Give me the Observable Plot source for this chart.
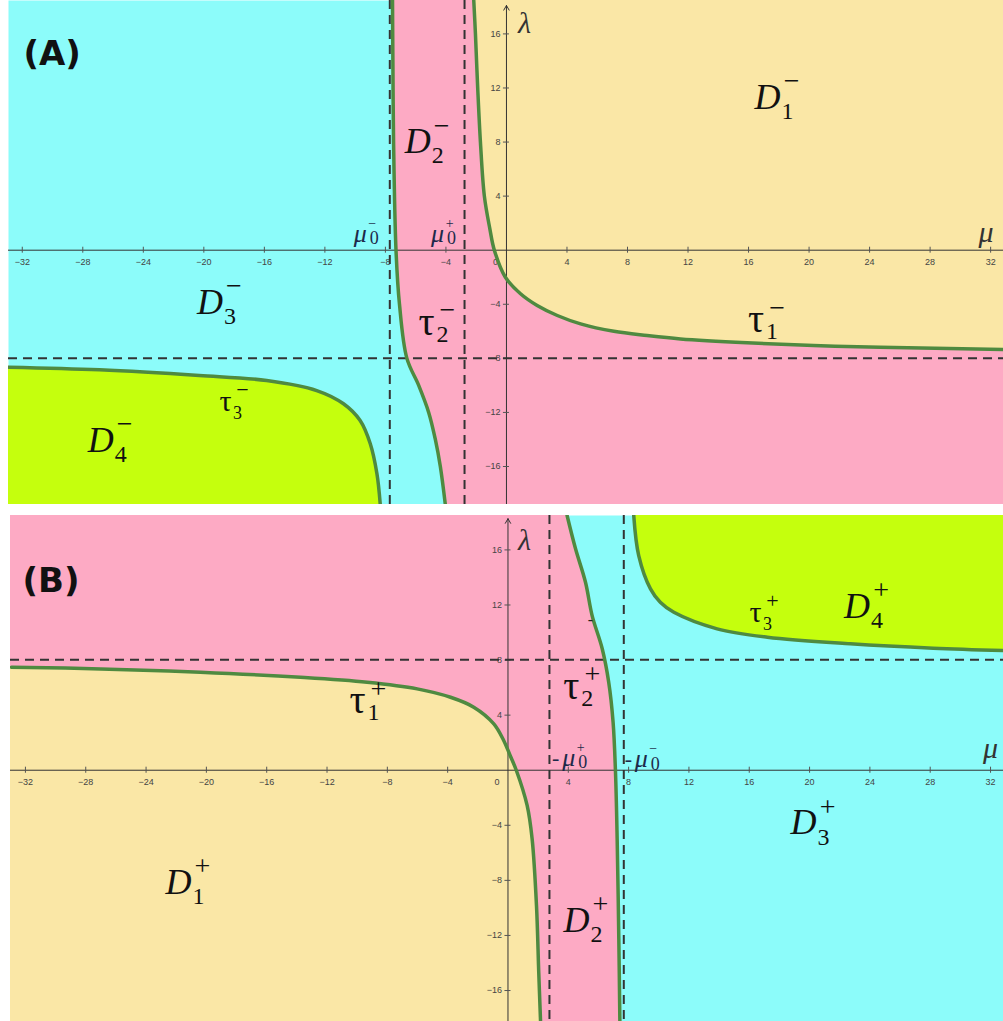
<!DOCTYPE html>
<html><head><meta charset="utf-8">
<script src="https://cdn.jsdelivr.net/npm/d3@7"></script>
<script src="https://cdn.jsdelivr.net/npm/@observablehq/plot@0.6"></script>
<style>
body{margin:0;background:#fff;width:1003px;height:1021px;position:relative;overflow:hidden}
#a{position:absolute;left:8px;top:0}
#b{position:absolute;left:10px;top:515px}
</style></head><body>
<div id="a"></div><div id="b"></div>
<script>
// ---------- data ----------
const muTicks = [-32,-28,-24,-20,-16,-12,-8,-4,4,8,12,16,20,24,28,32];
const muZeroTick = [0];
const lambdaTicks = [-16,-12,-8,-4,4,8,12,16];

// Panel A
const panelNameA = ["(A)"];
const muDomainA = [-32.91, 32.85];
const lambdaDomainA = [-18.81, 18.47];
const lambdaAxisA = [{mu: 0, from: -18.81, to: 18.1}];
const muZeroA = [-7.71, -2.77];          // μ0−, μ0+
const lambdaDashA = [-8];
const tau1A = [[-2.16,18.47],[-2.05,16],[-1.9,12],[-1.72,8],[-1.46,4],[-1.1,1.6],[-0.8,0],[-0.07,-2.0],[0.93,-3.22],[2.03,-4.09],[3.36,-4.83],[4.9,-5.45],[7.1,-6.0],[9.3,-6.31],[11.5,-6.56],[15.9,-6.85],[20.3,-7.05],[24.7,-7.17],[32.85,-7.34]];
const tau2A = [[-7.53,18.47],[-7.5,13],[-7.46,8],[-7.3,0],[-7.07,-4],[-6.58,-8],[-5.8,-10],[-5.14,-12],[-4.7,-14],[-4.37,-16],[-4.04,-18.81]];
const tau3A = [[-32.91,-8.65],[-26.9,-8.85],[-20.3,-9.27],[-15.85,-9.64],[-12.54,-10.38],[-10.77,-11.36],[-9.67,-12.6],[-9.0,-14.32],[-8.56,-16.54],[-8.34,-18.81]];
const labelsA = [
  {main:"D", sub:"1", sup:"\u2212", kind:"D", mu:17.26, lambda:11.3},
  {main:"D", sub:"2", sup:"\u2212", kind:"D", mu:-5.87, lambda:8.03},
  {main:"D", sub:"3", sup:"\u2212", kind:"D", mu:-19.6, lambda:-3.87},
  {main:"D", sub:"4", sup:"\u2212", kind:"D", mu:-26.82, lambda:-14.07},
  {main:"\u03c4", sub:"1", sup:"\u2212", kind:"tau", mu:16.5, lambda:-5.13},
  {main:"\u03c4", sub:"2", sup:"\u2212", kind:"tau", mu:-5.29, lambda:-5.35},
  {main:"\u03c4", sub:"3", sup:"\u2212", kind:"tauSmall", mu:-18.57, lambda:-11.19},
  {main:"\u03bc", sub:"0", sup:"\u2212", kind:"mu", mu:-9.66, lambda:1.24},
  {main:"\u03bc", sub:"0", sup:"+", kind:"mu", mu:-4.55, lambda:1.24}
];
const axisLabelsA = [{text:"\u03bb", mu:1.2, lambda:16.8},{text:"\u03bc", mu:31.7, lambda:1.3}];

// Panel B
const panelNameB = ["(B)"];
const muDomainB = [-32.99, 32.86];
const lambdaDomainB = [-18.25, 18.5];
const lambdaAxisB = [{mu: 0, from: -18.25, to: 18.27}];
const muZeroB = [2.75, 7.68];           // −μ0+, −μ0−
const lambdaDashB = [8.02];
const tau1B = [[-32.92,7.48],[-27.0,7.36],[-20.4,7.12],[-13.76,6.75],[-9.34,6.39],[-6.02,5.91],[-3.81,5.3],[-2.27,4.58],[-0.94,3.37],[-0.3,2.2],[0.15,1.05],[0.55,0],[1.27,-2.56],[1.6,-4.98],[1.89,-9.82],[2.04,-14.67],[2.16,-18.25]];
const tau2B = [[3.92,18.5],[4.48,16.08],[5.14,13.65],[5.58,11.23],[6.25,8.82],[6.68,6.39],[6.97,3.49],[7.13,-0.15],[7.24,-4.98],[7.35,-12.24],[7.42,-18.25]];
const tau3B = [[8.34,18.5],[8.67,15.59],[9.45,13.17],[10.1,12.2],[11.0,11.47],[13.87,10.27],[17.2,9.66],[22.7,9.18],[28.2,8.86],[32.86,8.69]];
const labelsB = [
  {main:"D", sub:"1", sup:"+", kind:"D", mu:-21.85, lambda:-8.15},
  {main:"D", sub:"2", sup:"+", kind:"D", mu:4.54, lambda:-10.9},
  {main:"D", sub:"3", sup:"+", kind:"D", mu:19.6, lambda:-3.83},
  {main:"D", sub:"4", sup:"+", kind:"D", mu:23.15, lambda:11.89},
  {main:"\u03c4", sub:"1", sup:"+", kind:"tau", mu:-9.98, lambda:5.06},
  {main:"\u03c4", sub:"2", sup:"+", kind:"tau", mu:4.2, lambda:6.08},
  {main:"\u03c4", sub:"3", sup:"+", kind:"tauSmall", mu:16.41, lambda:11.45},
  {main:"\u03bc", sub:"0", sup:"+", pre:"-", kind:"mu", mu:4.03, lambda:0.92},
  {main:"\u03bc", sub:"0", sup:"\u2212", pre:"-", kind:"mu", mu:8.84, lambda:0.83}
];
const strayB = [{text:"-", mu:5.47, lambda:10.9}];
const axisLabelsB = [{text:"\u03bb", mu:1.1, lambda:16.7},{text:"\u03bc", mu:32.0, lambda:1.6}];

// ---------- styles ----------
const cyan = "#8cfcfa", pink = "#fdaac4", yellow = "#fae7a6", green = "#c5ff0d";
const curveColor = "#4f8a40";
const serif = "Liberation Serif";
const labelStyle = {
  D:        {size:36, italic:true,  color:"#111", sub:[20,14,24], sup:[24,-16,28]},
  tau:      {size:40, italic:false, color:"#111", sub:[16,12,24], sup:[21,-12,28]},
  tauSmall: {size:30, italic:false, color:"#111", sub:[12,12,18], sup:[17,-12,22]},
  mu:       {size:26, italic:true,  color:"#1d2a4a", sub:[14,5,18], sup:[12,-10,14]}
};
const fmt = d3.format("");

function labelMarks(labels) {
  const marks = [];
  for (const [kind, s] of Object.entries(labelStyle)) {
    const L = labels.filter(d => d.kind === kind);
    if (!L.length) continue;
    const base = {x: "mu", y: "lambda", fontFamily: serif, fill: s.color};
    marks.push(Plot.text(L, {...base, text: "main", fontSize: s.size, fontStyle: s.italic ? "italic" : "normal"}));
    marks.push(Plot.text(L, {...base, text: "sub", fontSize: s.sub[2], dx: s.sub[0], dy: s.sub[1]}));
    marks.push(Plot.text(L, {...base, text: "sup", fontSize: s.sup[2], dx: s.sup[0], dy: s.sup[1]}));
    const P = L.filter(d => d.pre);
    if (P.length) marks.push(Plot.text(P, {...base, text: "pre", fontSize: s.size - 4, dx: -13}));
  }
  return marks;
}

function panel(c) {
  const [x0, x1] = c.muDomain, [y0, y1] = c.lambdaDomain;
  const px = d => d[0], py = d => d[1];
  const dash = {stroke: "#333", strokeWidth: 2, strokeDasharray: "9,6"};
  const tickText = {fontFamily: "Liberation Sans", fontSize: 9, fill: "#444"};
  return Plot.plot({
    width: c.width, height: c.height, margin: 0,
    x: {domain: c.muDomain, axis: null},
    y: {domain: c.lambdaDomain, axis: null},
    style: {background: "transparent", overflow: "hidden"},
    marks: [
      Plot.frame({fill: c.bg, stroke: "none"}),
      ...c.fills.map(f => f.dir === "x"
        ? Plot.areaX(f.data, {y: py, x1: f.side === "right" ? px : x0, x2: f.side === "right" ? x1 : px, fill: f.color, curve: "catmull-rom"})
        : Plot.areaY(f.data, {x: px, y1: f.side === "below" ? y0 : py, y2: f.side === "below" ? py : y1, fill: f.color, curve: "catmull-rom"})),
      // axes
      Plot.ruleY([0], {stroke: "#333", strokeWidth: 1}),
      Plot.arrow(c.lambdaAxis, {x1: "mu", x2: "mu", y1: "from", y2: "to", stroke: "#333", strokeWidth: 1, headLength: 8}),
      Plot.ruleX(muTicks, {x: d => d, y1: -0.22, y2: 0.22, stroke: "#555"}),
      Plot.ruleY(lambdaTicks, {y: d => d, x1: -0.2, x2: 0.2, stroke: "#555"}),
      Plot.text(muTicks, {x: d => d, y: 0, dy: 12, text: d => fmt(d), ...tickText}),
      Plot.text(muZeroTick, {x: d => d, y: 0, dy: 12, dx: -11, text: d => fmt(d), ...tickText}),
      Plot.text(lambdaTicks, {x: 0, y: d => d, dx: -6, textAnchor: "end", text: d => fmt(d), ...tickText}),
      // dashed asymptotes
      Plot.ruleX(c.muZero, {x: d => d, ...dash}),
      Plot.ruleY(c.lambdaDash, {y: d => d, ...dash}),
      // boundary curves
      ...c.curves.map(cv => Plot.line(cv, {x: px, y: py, stroke: curveColor, strokeWidth: 3.5, curve: "catmull-rom", clip: true})),
      // labels
      ...labelMarks(c.labels),
      ...(c.stray ? [Plot.text(c.stray, {x: "mu", y: "lambda", text: "text", fontSize: 16, fontFamily: serif, fill: "#222"})] : []),
      Plot.text(c.axisLabels, {x: "mu", y: "lambda", text: "text", fontSize: 30, fontStyle: "italic", fontFamily: serif, fill: "#333"}),
      Plot.text(c.name, {frameAnchor: "top-left", text: d => d, dx: c.nameOffset[0], dy: c.nameOffset[1], textAnchor: "start", fontFamily: "DejaVu Sans", fontWeight: "bold", fontSize: 34, fill: "#111"})
    ]
  });
}

document.getElementById("a").appendChild(panel({
  width: 995, height: 504, muDomain: muDomainA, lambdaDomain: lambdaDomainA, bg: cyan,
  lambdaAxis: lambdaAxisA, muZero: muZeroA, lambdaDash: lambdaDashA,
  fills: [
    {dir: "x", side: "right", data: tau2A, color: pink},
    {dir: "x", side: "right", data: tau1A, color: yellow},
    {dir: "y", side: "below", data: tau3A, color: green}
  ],
  curves: [tau1A, tau2A, tau3A], labels: labelsA, axisLabels: axisLabelsA,
  name: panelNameA, nameOffset: [15, 40]
}));

document.getElementById("b").appendChild(panel({
  width: 993, height: 506, muDomain: muDomainB, lambdaDomain: lambdaDomainB, bg: cyan,
  lambdaAxis: lambdaAxisB, muZero: muZeroB, lambdaDash: lambdaDashB,
  fills: [
    {dir: "x", side: "left", data: tau2B, color: pink},
    {dir: "x", side: "left", data: tau1B, color: yellow},
    {dir: "y", side: "above", data: tau3B, color: green}
  ],
  curves: [tau1B, tau2B, tau3B], labels: labelsB, axisLabels: axisLabelsB, stray: strayB,
  name: panelNameB, nameOffset: [12, 52]
}));
</script>
</body></html>
